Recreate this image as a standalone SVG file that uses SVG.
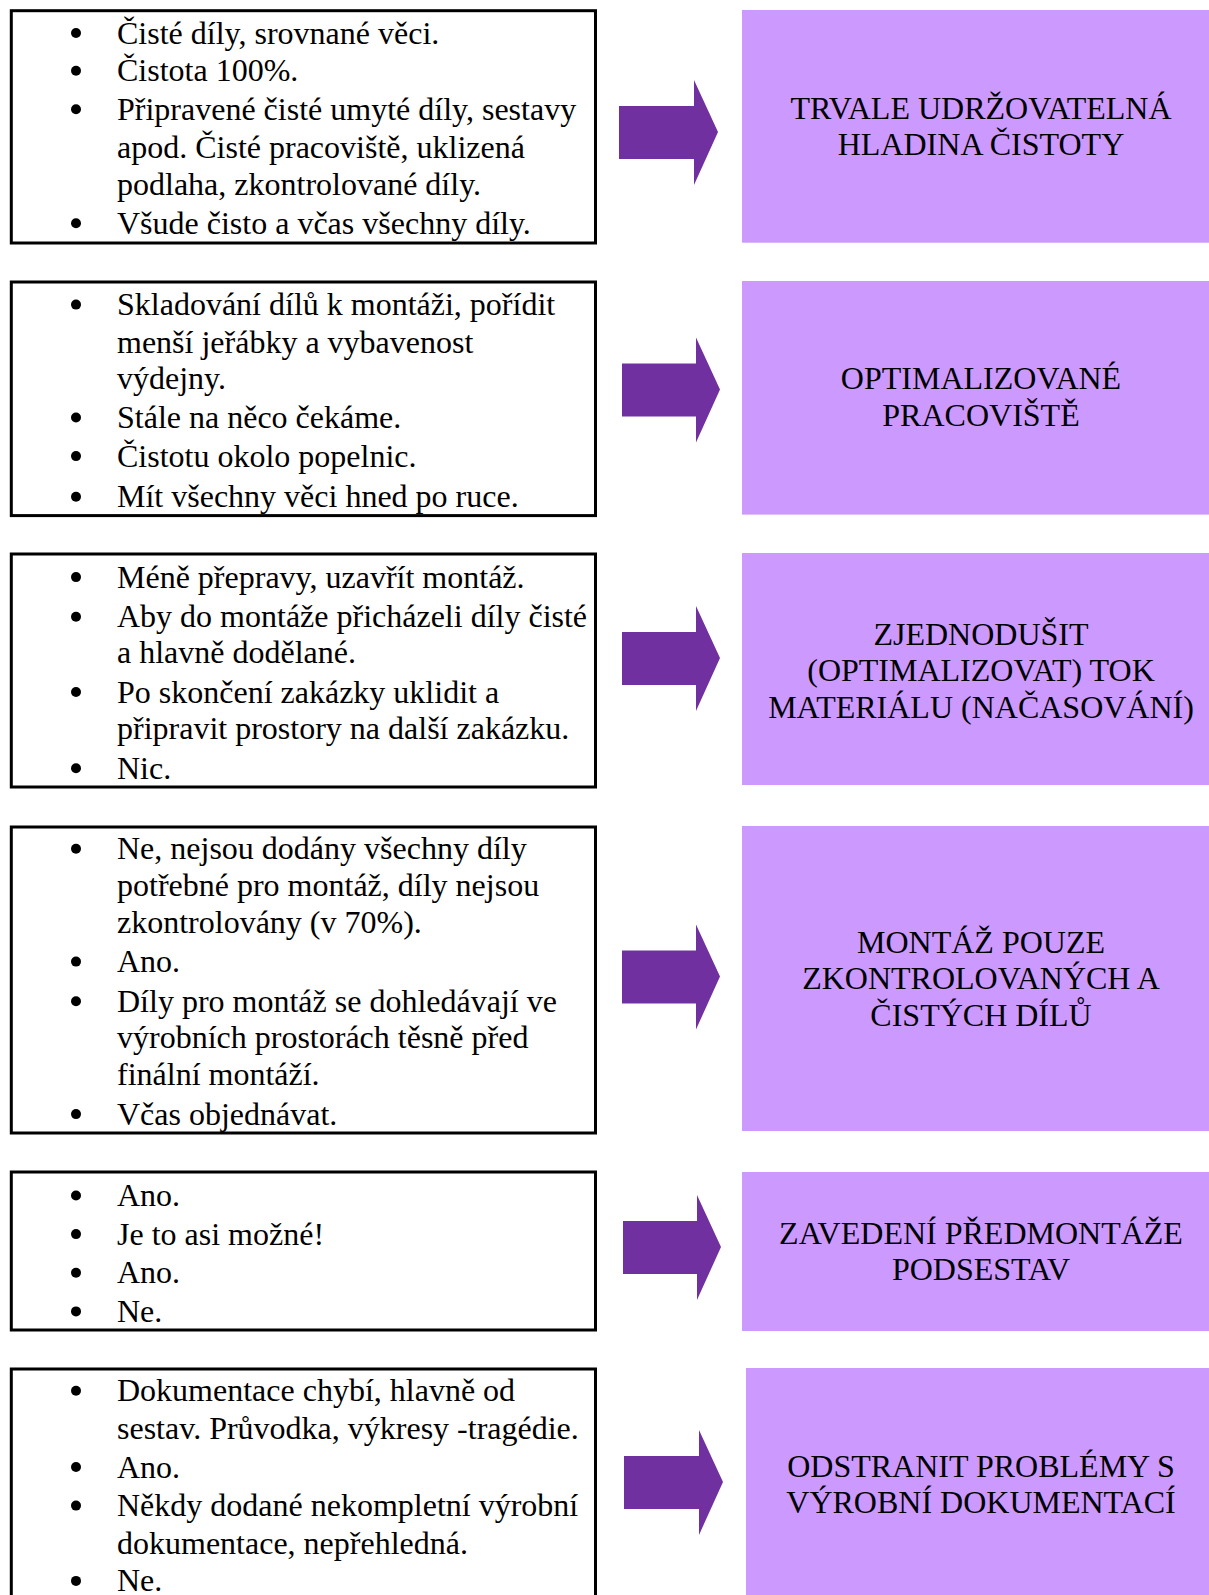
<svg xmlns="http://www.w3.org/2000/svg" width="1209" height="1595" viewBox="0 0 1209 1595">
<style>
.box{fill:#ffffff;stroke:#000000;stroke-width:3}
.goal{fill:#CC99FF}
.arrow{fill:#7030A0}
text{font-family:"Liberation Serif","Times New Roman",serif;font-size:32px;fill:#000000}
.g{text-anchor:middle}
.b{fill:#000000}
</style>
<rect width="1209" height="1595" fill="#ffffff"/>

<g id="node-l1">
<rect class="box" x="11.3" y="10.7" width="584.2" height="232.3"/>
<circle class="b" cx="76" cy="33" r="5"/><text x="117" y="43.6">Čisté díly, srovnané věci.</text>
<circle class="b" cx="76" cy="70.7" r="5"/><text x="117" y="81.2">Čistota 100%.</text>
<circle class="b" cx="76" cy="109.3" r="5"/><text x="117" y="119.8">Připravené čisté umyté díly, sestavy</text>
<text x="117" y="157.5">apod. Čisté pracoviště, uklizená</text>
<text x="117" y="195.1">podlaha, zkontrolované díly.</text>
<circle class="b" cx="76" cy="223.2" r="5"/><text x="117" y="233.7">Všude čisto a včas všechny díly.</text>
</g>

<g id="node-l2">
<rect class="box" x="11.3" y="282" width="584.2" height="233.6"/>
<circle class="b" cx="76" cy="304.6" r="5"/><text x="117" y="315.1">Skladování dílů k montáži, pořídit</text>
<text x="117" y="352.7">menší jeřábky a vybavenost</text>
<text x="117" y="389.3">výdejny.</text>
<circle class="b" cx="76" cy="417.5" r="5"/><text x="117" y="428">Stále na něco čekáme.</text>
<circle class="b" cx="76" cy="456.1" r="5"/><text x="117" y="466.6">Čistotu okolo popelnic.</text>
<circle class="b" cx="76" cy="496.8" r="5"/><text x="117" y="507.3">Mít všechny věci hned po ruce.</text>
</g>

<g id="node-l3">
<rect class="box" x="11.3" y="554" width="584.2" height="233"/>
<circle class="b" cx="76" cy="577.1" r="5"/><text x="117" y="587.6">Méně přepravy, uzavřít montáž.</text>
<circle class="b" cx="76" cy="616.8" r="5"/><text x="117" y="627.3">Aby do montáže přicházeli díly čisté</text>
<text x="117" y="662.9">a hlavně dodělané.</text>
<circle class="b" cx="76" cy="692" r="5"/><text x="117" y="702.5">Po skončení zakázky uklidit a</text>
<text x="117" y="739.2">připravit prostory na další zakázku.</text>
<circle class="b" cx="76" cy="768.3" r="5"/><text x="117" y="778.8">Nic.</text>
</g>

<g id="node-l4">
<rect class="box" x="11.3" y="827" width="584.2" height="306"/>
<circle class="b" cx="76" cy="848.7" r="5"/><text x="117" y="859.2">Ne, nejsou dodány všechny díly</text>
<text x="117" y="895.8">potřebné pro montáž, díly nejsou</text>
<text x="117" y="933.4">zkontrolovány (v 70%).</text>
<circle class="b" cx="76" cy="961.6" r="5"/><text x="117" y="972.1">Ano.</text>
<circle class="b" cx="76" cy="1001.2" r="5"/><text x="117" y="1011.7">Díly pro montáž se dohledávají ve</text>
<text x="117" y="1048.4">výrobních prostorách těsně před</text>
<text x="117" y="1085">finální montáží.</text>
<circle class="b" cx="76" cy="1114.1" r="5"/><text x="117" y="1124.6">Včas objednávat.</text>
</g>

<g id="node-l5">
<rect class="box" x="11.3" y="1172" width="584.2" height="158"/>
<circle class="b" cx="76" cy="1195.5" r="5"/><text x="117" y="1206">Ano.</text>
<circle class="b" cx="76" cy="1234.1" r="5"/><text x="117" y="1244.6">Je to asi možné!</text>
<circle class="b" cx="76" cy="1272.8" r="5"/><text x="117" y="1283.3">Ano.</text>
<circle class="b" cx="76" cy="1311.4" r="5"/><text x="117" y="1321.9">Ne.</text>
</g>

<g id="node-l6">
<rect class="box" x="11.3" y="1369" width="584.2" height="240"/>
<circle class="b" cx="76" cy="1390.7" r="5"/><text x="117" y="1401.2">Dokumentace chybí, hlavně od</text>
<text x="117" y="1438.9">sestav. Průvodka, výkresy -tragédie.</text>
<circle class="b" cx="76" cy="1467" r="5"/><text x="117" y="1477.5">Ano.</text>
<circle class="b" cx="76" cy="1505.6" r="5"/><text x="117" y="1516.1">Někdy dodané nekompletní výrobní</text>
<text x="117" y="1553.8">dokumentace, nepřehledná.</text>
<circle class="b" cx="76" cy="1580.9" r="5"/><text x="117" y="1591.4">Ne.</text>
</g>

<g id="node-r1">
<rect class="goal" x="742" y="10" width="467" height="232.7"/>
<text class="g" x="981" y="118.8">TRVALE UDRŽOVATELNÁ</text>
<text class="g" x="981" y="155.4">HLADINA ČISTOTY</text>
</g>
<g id="node-r2">
<rect class="goal" x="742" y="281" width="467" height="233.6"/>
<text class="g" x="981" y="389.3">OPTIMALIZOVANÉ</text>
<text class="g" x="981" y="426">PRACOVIŠTĚ</text>
</g>
<g id="node-r3">
<rect class="goal" x="742" y="553" width="467" height="232"/>
<text class="g" x="981" y="644.6">ZJEDNODUŠIT</text>
<text class="g" x="981" y="681.2">(OPTIMALIZOVAT) TOK</text>
<text class="g" x="981" y="717.8">MATERIÁLU (NAČASOVÁNÍ)</text>
</g>
<g id="node-r4">
<rect class="goal" x="742" y="826" width="467" height="305"/>
<text class="g" x="981" y="952.8">MONTÁŽ POUZE</text>
<text class="g" x="981" y="989.4">ZKONTROLOVANÝCH A</text>
<text class="g" x="981" y="1026">ČISTÝCH DÍLŮ</text>
</g>
<g id="node-r5">
<rect class="goal" x="742" y="1172" width="467" height="159"/>
<text class="g" x="981" y="1243.6">ZAVEDENÍ PŘEDMONTÁŽE</text>
<text class="g" x="981" y="1280.2">PODSESTAV</text>
</g>
<g id="node-r6">
<rect class="goal" x="746" y="1368" width="463" height="227"/>
<text class="g" x="981" y="1476.5">ODSTRANIT PROBLÉMY S</text>
<text class="g" x="981" y="1513.1">VÝROBNÍ DOKUMENTACÍ</text>
</g>

<g id="connectors">
<polygon class="arrow" points="619,106 694,106 694,80 718,132 694,185 694,159 619,159"/>
<polygon class="arrow" points="622,363.5 696,363.5 696,337.5 720,389.5 696,442.5 696,416.5 622,416.5"/>
<polygon class="arrow" points="622,632 696,632 696,606 720,658 696,711 696,685 622,685"/>
<polygon class="arrow" points="622,950.5 696,950.5 696,924.5 720,976.5 696,1029.5 696,1003.5 622,1003.5"/>
<polygon class="arrow" points="623,1221 697,1221 697,1195 721,1247 697,1300 697,1274 623,1274"/>
<polygon class="arrow" points="624,1456 699,1456 699,1430 723,1482 699,1535 699,1509 624,1509"/>
</g>
</svg>
